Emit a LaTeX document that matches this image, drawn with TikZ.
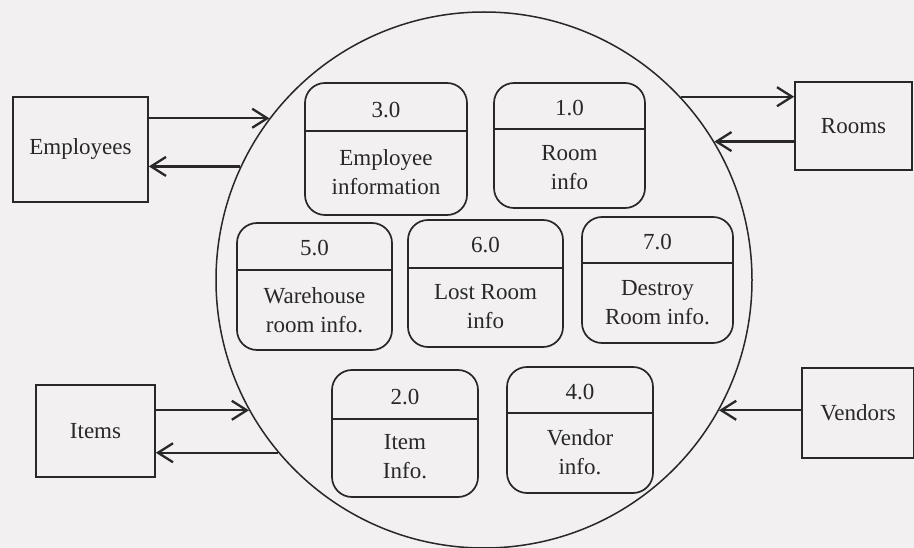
\documentclass[tikz,border=0pt]{standalone}
\usepackage{fontspec}
\setmainfont{Liberation Serif}
\usetikzlibrary{arrows.meta}
\definecolor{bgcol}{RGB}{242,240,240}
\definecolor{inkcol}{RGB}{40,40,40}
\tikzset{
  ink/.style={draw=inkcol, line width=1.7pt},
  extbox/.style={ink, rectangle, inner sep=0pt, font=\fontsize{23}{28}\selectfont, text=inkcol},
  procbox/.style={ink, rectangle, rounded corners=20pt, inner sep=0pt},
  proctext/.style={font=\fontsize{23}{29}\selectfont, text=inkcol, align=center, inner sep=0pt},
  flow/.style={draw=inkcol, line width=2.3pt, -{Straight Barb[length=15pt,width=19pt,line width=2.3pt]}},
}
\newcommand\dfdproc[8]{%
  % #1 name, #2 cx, #3 cy, #4 w, #5 h, #6 divider y, #7 number y, #8 number
  \node[procbox, minimum width=#4pt, minimum height=#5pt] (#1) at (#2,#3) {};
  \draw[ink] (#1.west |- 0,#6) -- (#1.east |- 0,#6);
  \node[proctext] (#1num) at (#2,#7) {#8};
}
\begin{document}
\begin{tikzpicture}[x=1pt,y=-1pt]
\fill[bgcol] (0,0) rectangle (914,548);
\useasboundingbox (0,0) rectangle (914,548);

% context circle
\node[ink, line width=1.5pt, circle, minimum size=536pt, inner sep=0pt] (circ) at (484,280) {};

% processes
\dfdproc{p3}{386}{149}{162}{132}{131}{110}{3.0}
\node[proctext] (p3txt) at (386,172) {Employee\\information};
\dfdproc{p1}{569.5}{145.5}{151}{125}{129}{108}{1.0}
\node[proctext] (p1txt) at (569.5,168) {Room\\info};
\dfdproc{p5}{314.5}{286.5}{155}{127}{270}{248}{5.0}
\node[proctext] (p5txt) at (314.5,310) {Warehouse\\room info.};
\dfdproc{p6}{485.5}{283.5}{155}{127}{268}{245}{6.0}
\node[proctext] (p6txt) at (485.5,307) {Lost Room\\info};
\dfdproc{p7}{657.5}{280}{151}{126}{263}{242}{7.0}
\node[proctext] (p7txt) at (657.5,303) {Destroy\\Room info.};
\dfdproc{p2}{405}{433.5}{146}{127}{419}{397}{2.0}
\node[proctext] (p2txt) at (405,457) {Item\\Info.};
\dfdproc{p4}{580}{430}{146}{126}{413}{392}{4.0}
\node[proctext] (p4txt) at (580,452) {Vendor\\info.};

% external entities
\node[extbox, minimum width=135pt, minimum height=105pt] (emp) at (80.5,149.5) {Employees};
\node[extbox, minimum width=117pt, minimum height=88pt] (rooms) at (853.5,126) {Rooms};
\node[extbox, minimum width=119pt, minimum height=92pt] (items) at (95.5,431) {Items};
\node[extbox, minimum width=112pt, minimum height=90pt] (vend) at (858,413) {Vendors};

% points on circle
\coordinate (ce1) at (circ.143.9);
\coordinate (ce2) at (circ.155.3);
\coordinate (cr1) at (circ.43.1);
\coordinate (cr2) at (circ.31.0);
\coordinate (ci1) at (circ.209.0);
\coordinate (ci2) at (circ.220.2);
\coordinate (cv1) at (circ.-29.75);

% flows
\draw[flow] (emp.east |- ce1) -- (ce1);
\draw[flow] (ce2) -- (emp.east |- ce2);
\draw[flow] (cr1) -- (rooms.west |- cr1);
\draw[flow] (rooms.west |- cr2) -- (cr2);
\draw[flow] (items.east |- ci1) -- (ci1);
\draw[flow] (ci2) -- (items.east |- ci2);
\draw[flow] (vend.west |- cv1) -- (cv1);
\end{tikzpicture}
\end{document}
